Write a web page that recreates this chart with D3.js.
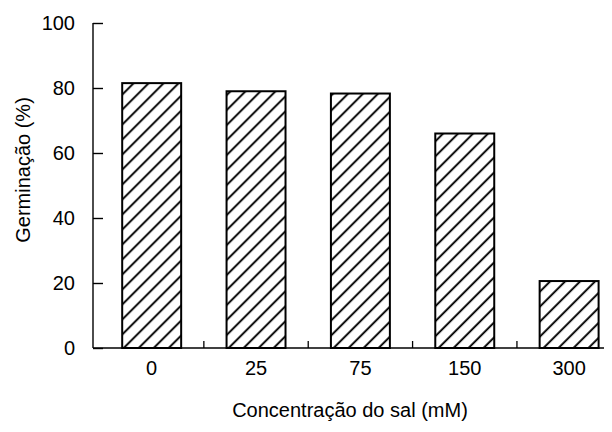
<!DOCTYPE html>
<html>
<head>
<meta charset="utf-8">
<script src="https://cdn.jsdelivr.net/npm/d3@7"></script>
<style>
  body { margin: 0; background: #fff; }
  svg { display: block; }
  text { font-family: "Liberation Sans", Arial, sans-serif; fill: #000; }
</style>
</head>
<body>
<svg id="chart" width="612" height="432"></svg>
<script>
// data
const categories = ["0", "25", "75", "150", "300"];
const germination = [81.5, 79, 78.3, 66, 20.6];
const yTicks = [0, 20, 40, 60, 80, 100];

const svg = d3.select("#chart");
const fontSize = 20;

// scales
const x = d3.scaleBand()
    .domain(categories)
    .range([99.5, 621.3])
    .paddingInner(0.435)
    .paddingOuter(0.2175);

const y = d3.scaleLinear()
    .domain([0, 100])
    .range([348, 23]);

const axisX = 93;

// hatch pattern "/"
const defs = svg.append("defs");
const pat = defs.append("pattern")
    .attr("id", "hatch")
    .attr("patternUnits", "userSpaceOnUse")
    .attr("width", 10.6)
    .attr("height", 10)
    .attr("patternTransform", "rotate(45)");
pat.append("line")
    .attr("x1", 5).attr("y1", -1)
    .attr("x2", 5).attr("y2", 11)
    .attr("stroke", "#000")
    .attr("stroke-width", 1.9);

// bars
svg.append("g").selectAll("rect")
    .data(categories)
    .join("rect")
    .attr("x", d => x(d))
    .attr("y", (d, i) => y(germination[i]))
    .attr("width", x.bandwidth())
    .attr("height", (d, i) => y(0) - y(germination[i]))
    .attr("fill", "url(#hatch)")
    .attr("stroke", "#000")
    .attr("stroke-width", 2);

// y axis (ticks point inward)
const yAxis = svg.append("g")
    .attr("transform", `translate(${axisX},0)`)
    .call(d3.axisLeft(y).tickValues(yTicks).tickSize(-10).tickPadding(18));
yAxis.select(".domain").remove();
yAxis.selectAll(".tick line").attr("stroke", "#000").attr("stroke-width", 1.4);
yAxis.selectAll(".tick text")
    .attr("font-size", fontSize)
    .attr("font-family", "Liberation Sans, Arial, sans-serif")
    .attr("fill", "#000");

svg.append("line")
    .attr("x1", axisX).attr("x2", axisX)
    .attr("y1", y(100)).attr("y2", y(0))
    .attr("stroke", "#000")
    .attr("stroke-width", 1.4);

// x baseline
svg.append("line")
    .attr("x1", axisX).attr("x2", 604)
    .attr("y1", y(0)).attr("y2", y(0))
    .attr("stroke", "#000")
    .attr("stroke-width", 1.6);

// small ticks between the bars
const gaps = categories.slice(0, -1).map(c => x(c) + x.bandwidth() + (x.step() - x.bandwidth()) / 2);
svg.append("g").selectAll("line")
    .data(gaps)
    .join("line")
    .attr("x1", d => d).attr("x2", d => d)
    .attr("y1", y(0)).attr("y2", y(0) - 7)
    .attr("stroke", "#000")
    .attr("stroke-width", 1.3);

// category labels
svg.append("g").selectAll("text")
    .data(categories)
    .join("text")
    .attr("x", d => x(d) + x.bandwidth() / 2)
    .attr("y", 375)
    .attr("text-anchor", "middle")
    .attr("font-size", fontSize)
    .text(d => d);

// axis titles
svg.append("text")
    .attr("x", 350)
    .attr("y", 417)
    .attr("text-anchor", "middle")
    .attr("font-size", fontSize)
    .text("Concentração do sal (mM)");

svg.append("text")
    .attr("transform", "translate(30,170) rotate(-90)")
    .attr("text-anchor", "middle")
    .attr("font-size", fontSize)
    .text("Germinação (%)");
</script>
</body>
</html>
